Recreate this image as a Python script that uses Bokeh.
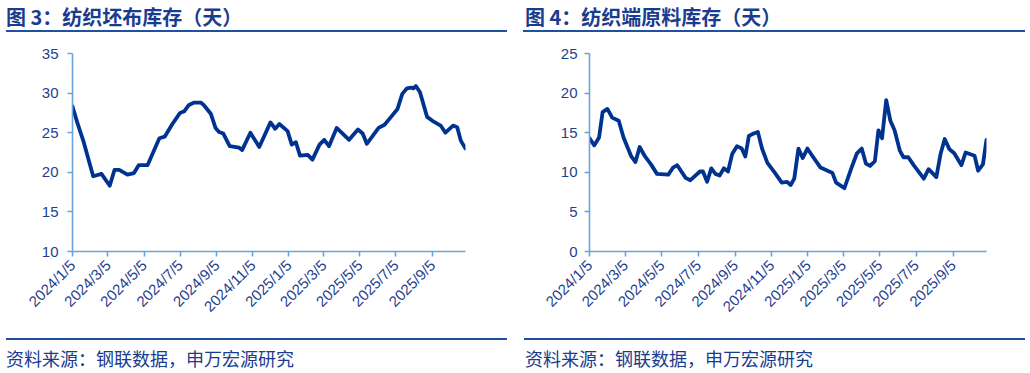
import pandas as pd
from math import pi
from bokeh.plotting import figure
from bokeh.models import Range1d, FixedTicker, ColumnDataSource, Div
from bokeh.layouts import row, column
from bokeh.embed import file_html
from bokeh.resources import INLINE

# ---------------- data ----------------
base_date = "2024-01-05"
x_end_day = 665  # axis end, days after base_date

tick_labels = ["2024/1/5", "2024/3/5", "2024/5/5", "2024/7/5", "2024/9/5", "2024/11/5",
               "2025/1/5", "2025/3/5", "2025/5/5", "2025/7/5", "2025/9/5"]

left_title = "图 3：纺织坯布库存（天）"
right_title = "图 4：纺织端原料库存（天）"
source_text = "资料来源：钢联数据，申万宏源研究"

left_y_ticks = [10, 15, 20, 25, 30, 35]
right_y_ticks = [0, 5, 10, 15, 20, 25]

# 纺织坯布库存（天）: days after base_date, value
greige_days = [0, 8, 19, 35, 49, 63, 71, 79, 93, 104, 112, 127, 134, 147, 156, 169, 182, 189,
               197, 206, 217, 222, 234, 242, 248, 255, 266, 282, 287, 301, 316, 335, 343, 350,
               364, 371, 378, 385, 398, 406, 418, 426, 434, 447, 468, 483, 491, 498, 518, 528,
               538, 550, 558, 566, 573, 577, 581, 588, 600, 609, 623, 631, 644, 651, 657, 665]
greige_vals = [28.3, 26.3, 23.8, 19.5, 19.8, 18.3, 20.3, 20.3, 19.7, 19.9, 20.9, 20.9, 22.1,
               24.3, 24.5, 26.1, 27.5, 27.7, 28.5, 28.8, 28.8, 28.5, 27.4, 25.6, 25.1, 24.9,
               23.3, 23.1, 22.8, 25.0, 23.2, 26.3, 25.5, 26.1, 25.2, 23.5, 23.8, 22.1, 22.2,
               21.6, 23.5, 24.1, 23.3, 25.6, 24.1, 25.4, 24.9, 23.6, 25.6, 26.0, 26.9, 28.0,
               29.9, 30.6, 30.7, 30.6, 30.9, 30.1, 27.0, 26.5, 25.9, 25.0, 25.9, 25.7, 24.0, 23.0]

# 纺织端原料库存（天）
raw_days = [0, 8, 16, 22, 30, 38, 49, 57, 70, 77, 84, 93, 103, 113, 132, 140, 147, 161, 169,
            185, 190, 197, 204, 211, 218, 225, 232, 239, 247, 255, 261, 267, 275, 282, 289, 298,
            310, 322, 331, 337, 343, 350, 357, 365, 374, 387, 407, 413, 427, 440, 448, 456, 463,
            470, 478, 484, 490, 497, 504, 511, 520, 526, 534, 543, 560, 568, 581, 588, 595, 603,
            611, 623, 630, 645, 651, 659, 665]
raw_vals = [14.3, 13.4, 14.4, 17.6, 18.0, 16.9, 16.5, 14.4, 12.0, 11.3, 13.2, 12.0, 11.0, 9.8,
            9.7, 10.6, 10.9, 9.3, 9.0, 10.1, 10.1, 8.8, 10.5, 9.8, 9.6, 10.5, 10.1, 12.3, 13.3,
            13.0, 12.0, 14.6, 14.9, 15.1, 13.0, 11.2, 10.0, 8.7, 8.8, 8.4, 9.2, 13.0, 11.8, 13.0,
            12.0, 10.6, 9.9, 8.7, 8.0, 10.8, 12.4, 13.0, 11.1, 10.8, 11.4, 15.3, 14.3, 19.1, 16.5,
            15.3, 12.7, 11.9, 11.9, 10.9, 9.2, 10.4, 9.4, 12.3, 14.2, 12.9, 12.4, 10.9, 12.5,
            12.1, 10.2, 11.0, 14.1]

# ---------------- styling ----------------
LINE_COLOR = "#00338F"
AXIS_COLOR = "#6BA3DC"
LABEL_COLOR = "#1F3F91"
TITLE_COLOR = "#1A3C8E"
RULE_COLOR = "#2150A0"
CJK = "'Noto Sans CJK SC'"
LATIN = "Liberation Sans"

base = pd.Timestamp(base_date)


def to_ms(ts):
    return ts.value / 1e6


tick_ms = [to_ms(pd.Timestamp(t)) for t in tick_labels]
x_start = to_ms(base)
x_end = to_ms(base + pd.Timedelta(days=x_end_day))

PANEL_W = 515
HEAD_H = 33
FIG_H = 300
FOOT_H = 40
BORDER_TOP, FRAME_H = 20, 198


def header(text, text_left, rule_left, rule_w):
    html = (
        f'<div style="position:relative;width:{PANEL_W}px;height:{HEAD_H}px;">'
        f'<div style="position:absolute;left:{text_left}px;top:6.5px;font-family:{CJK};'
        f'font-weight:bold;font-size:20px;line-height:20px;color:{TITLE_COLOR};'
        f'white-space:nowrap;">{text}</div>'
        f'<div style="position:absolute;left:{rule_left}px;top:29.5px;width:{rule_w}px;'
        f'height:2px;background:{RULE_COLOR};"></div></div>'
    )
    return Div(text=html, width=PANEL_W, height=HEAD_H, margin=0)


def footer(text, text_left, rule_left, rule_w):
    html = (
        f'<div style="position:relative;width:{PANEL_W}px;height:{FOOT_H}px;">'
        f'<div style="position:absolute;left:{rule_left}px;top:4.5px;width:{rule_w}px;'
        f'height:2px;background:{RULE_COLOR};"></div>'
        f'<div style="position:absolute;left:{text_left}px;top:15.5px;font-family:{CJK};'
        f'font-size:18px;line-height:18px;color:{TITLE_COLOR};white-space:nowrap;">{text}</div>'
        f'</div>'
    )
    return Div(text=html, width=PANEL_W, height=FOOT_H, margin=0)


def chart(days, vals, yticks, border_left, border_right, y_standoff):
    p = figure(width=PANEL_W, height=FIG_H, x_axis_type="datetime",
               x_range=Range1d(x_start, x_end), y_range=Range1d(yticks[0], yticks[-1]),
               output_backend="svg", toolbar_location=None, title=None,
               min_border_left=border_left, min_border_right=border_right,
               min_border_top=BORDER_TOP, min_border_bottom=FIG_H - BORDER_TOP - FRAME_H,
               margin=0)
    p.outline_line_color = None
    p.xgrid.grid_line_color = None
    p.ygrid.grid_line_color = None
    p.background_fill_color = "white"
    p.border_fill_color = "white"

    dates = [base + pd.Timedelta(days=d) for d in days]
    src = ColumnDataSource(dict(date=dates, val=vals))
    p.line("date", "val", source=src, line_width=3.8, line_color=LINE_COLOR,
           line_join="round", line_cap="round")

    xa = p.xaxis[0]
    xa.ticker = FixedTicker(ticks=tick_ms)
    xa.major_label_overrides = {ms: lab for ms, lab in zip(tick_ms, tick_labels)}
    xa.major_label_orientation = pi / 4
    ya = p.yaxis[0]
    ya.ticker = FixedTicker(ticks=yticks)
    for ax in (xa, ya):
        ax.minor_tick_line_color = None
        ax.axis_line_color = AXIS_COLOR
        ax.axis_line_width = 1.6
        ax.major_tick_line_color = AXIS_COLOR
        ax.major_tick_line_width = 1.6
        ax.major_tick_in = 0
        ax.major_tick_out = 5
        ax.major_label_text_color = LABEL_COLOR
        ax.major_label_text_font = LATIN
        ax.major_label_text_font_size = "15px"
    xa.major_label_standoff = 6
    ya.major_label_standoff = y_standoff
    return p


left_panel = column(
    header(left_title, text_left=6, rule_left=6, rule_w=501),
    chart(greige_days, greige_vals, left_y_ticks, border_left=72, border_right=50, y_standoff=9),
    footer(source_text, text_left=6, rule_left=6, rule_w=501),
    spacing=0, margin=0,
)
right_panel = column(
    header(right_title, text_left=10, rule_left=8, rule_w=502),
    chart(raw_days, raw_vals, right_y_ticks, border_left=74, border_right=44, y_standoff=7),
    footer(source_text, text_left=10, rule_left=9, rule_w=501),
    spacing=0, margin=0,
)

layout = row(left_panel, right_panel, spacing=0, margin=0)
open("out.html", "w").write(file_html(layout, INLINE))
